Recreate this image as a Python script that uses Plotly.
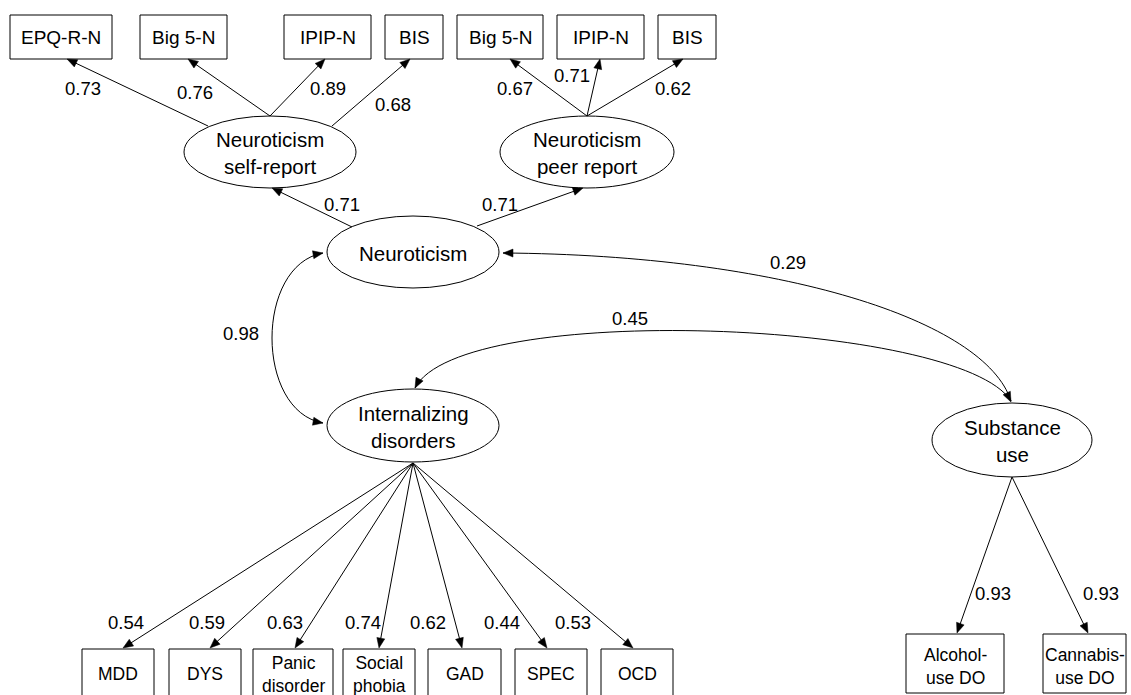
import numpy as np
import plotly.graph_objects as go

# ---------------- data ----------------
self_report_indicators = ["EPQ-R-N", "Big 5-N", "IPIP-N", "BIS"]
self_report_loadings = [0.73, 0.76, 0.89, 0.68]
peer_report_indicators = ["Big 5-N", "IPIP-N", "BIS"]
peer_report_loadings = [0.67, 0.71, 0.62]
factor_names = ["Neuroticism<br>self-report", "Neuroticism<br>peer report",
                "Neuroticism", "Internalizing<br>disorders", "Substance<br>use"]
neuroticism_loadings = [0.71, 0.71]  # self-report, peer report
internalizing_indicators = ["MDD", "DYS", "Panic<br>disorder", "Social<br>phobia",
                            "GAD", "SPEC", "OCD"]
internalizing_loadings = [0.54, 0.59, 0.63, 0.74, 0.62, 0.44, 0.53]
substance_indicators = ["Alcohol-<br>use DO", "Cannabis-<br>use DO"]
substance_loadings = [0.93, 0.93]
corr_neuro_internalizing = 0.98
corr_neuro_substance = 0.29
corr_internalizing_substance = 0.45

# ---------------- layout (positions / sizes) ----------------
W, H = 1131, 695
FONT = "Liberation Sans, Arial, sans-serif"

top_y = (15, 59)
self_box_x = [(10, 112), (140, 227), (284, 371), (385, 443)]
peer_box_x = [(457, 543), (557, 644), (658, 716)]
ell = {  # cx, cy, rx, ry
    "self": (270, 152, 86, 36),
    "peer": (587, 152, 87, 36),
    "neuro": (413, 252, 86, 36),
    "int": (413, 425.5, 86, 36.5),
    "sub": (1012, 440, 80, 37),
}
self_tails = [(208, 126), (270, 116), (270, 116), (332, 126)]
self_tips = [(67, 59), (188, 59), (325, 59), (410, 59)]
self_lab = [(83, 88), (195, 92), (328, 88), (393, 104)]
peer_tail = (587, 116)
peer_tips = [(510, 59), (600, 59), (683, 59)]
peer_lab = [(515, 88), (572, 75), (673, 88)]
neuro_tails = [(352, 227), (477, 226)]
neuro_tips = [(272, 188), (583, 188)]
neuro_lab = [(342, 204), (500, 204)]

bot_y = (649, 712)
bot_box_x = [(82, 154), (169, 241), (253, 333), (343, 415), (428, 501), (515, 587), (601, 673)]
int_apex = (413, 463)
bot_tip_x = [123, 210, 295, 379, 462, 547, 633]
bot_lab_x = [126, 207, 285, 363, 428, 502, 573]
bot_lab_y = 622

sub_box = [(906, 1004), (1043, 1126)]
sub_y = (634, 693)
sub_apex = (1012, 477)
sub_tips = [(957, 633), (1088, 633)]
sub_lab = [(993, 593), (1101, 593)]

shapes, annotations = [], []
LINE = dict(color="black", width=1)


def rect(x0, x1, y0, y1):
    shapes.append(dict(type="rect", xref="x", yref="y", x0=x0, x1=x1, y0=y0, y1=y1,
                       line=LINE, fillcolor="white", layer="below"))


def ellipse(cx, cy, rx, ry):
    shapes.append(dict(type="circle", xref="x", yref="y", x0=cx - rx, x1=cx + rx,
                       y0=cy - ry, y1=cy + ry, line=LINE, fillcolor="white", layer="below"))


def head(tip, direction, L=10, Wd=8):
    d = np.asarray(direction, float)
    u = d / np.linalg.norm(d)
    n = np.array([-u[1], u[0]])
    t = np.asarray(tip, float)
    b = t - L * u
    p1 = b + n * Wd / 2
    p2 = b - n * Wd / 2
    path = f"M {t[0]:.2f},{t[1]:.2f} L {p1[0]:.2f},{p1[1]:.2f} L {p2[0]:.2f},{p2[1]:.2f} Z"
    shapes.append(dict(type="path", xref="x", yref="y", path=path,
                       fillcolor="black", line=dict(color="black", width=0.5)))


def arrow(tail, tip):
    t = np.asarray(tail, float)
    p = np.asarray(tip, float)
    u = (p - t) / np.linalg.norm(p - t)
    end = p - 5 * u
    shapes.append(dict(type="line", xref="x", yref="y", x0=t[0], y0=t[1],
                       x1=end[0], y1=end[1], line=LINE))
    head(p, p - t)


def curve(p0, c1, c2, p3, head0=True, head3=True):
    path = f"M {p0[0]},{p0[1]} C {c1[0]},{c1[1]} {c2[0]},{c2[1]} {p3[0]},{p3[1]}"
    shapes.append(dict(type="path", xref="x", yref="y", path=path, line=LINE))
    if head0:
        head(p0, np.subtract(p0, c1))
    if head3:
        head(p3, np.subtract(p3, c2))


def text(x, y, s, size=18.5, family=FONT):
    annotations.append(dict(x=x, y=y, xref="x", yref="y", text=s, showarrow=False,
                            xanchor="center", yanchor="middle",
                            font=dict(family=family, size=size, color="black")))


# top indicators
for (x0, x1), name in zip(self_box_x, self_report_indicators):
    rect(x0, x1, *top_y)
    text((x0 + x1) / 2, 37, name, 19)
for (x0, x1), name in zip(peer_box_x, peer_report_indicators):
    rect(x0, x1, *top_y)
    text((x0 + x1) / 2, 37, name, 19)

# factors
keys = ["self", "peer", "neuro", "int", "sub"]
for k, name in zip(keys, factor_names):
    cx, cy, rx, ry = ell[k]
    ellipse(cx, cy, rx, ry)
    text(cx, cy + 1, name, 20.5)

# loadings on self / peer report
for tail, tip, lab, v in zip(self_tails, self_tips, self_lab, self_report_loadings):
    arrow(tail, tip)
    text(lab[0], lab[1], f"{v:.2f}")
for tip, lab, v in zip(peer_tips, peer_lab, peer_report_loadings):
    arrow(peer_tail, tip)
    text(lab[0], lab[1], f"{v:.2f}")
for tail, tip, lab, v in zip(neuro_tails, neuro_tips, neuro_lab, neuroticism_loadings):
    arrow(tail, tip)
    text(lab[0], lab[1], f"{v:.2f}")

# internalizing indicators
for (x0, x1), tx, lx, name, v in zip(bot_box_x, bot_tip_x, bot_lab_x,
                                      internalizing_indicators, internalizing_loadings):
    rect(x0, x1, *bot_y)
    text((x0 + x1) / 2, 674, name, 17.5)
    arrow(int_apex, (tx, bot_y[0] - 1))
    text(lx, bot_lab_y, f"{v:.2f}")

# substance indicators
for (x0, x1), tip, lab, name, v in zip(sub_box, sub_tips, sub_lab,
                                        substance_indicators, substance_loadings):
    rect(x0, x1, *sub_y)
    text((x0 + x1) / 2, 666, name, 17.5)
    arrow(sub_apex, tip)
    text(lab[0], lab[1], f"{v:.2f}")

# correlations (curved double-headed arrows)
curve((323, 253), (255, 265), (255, 411), (323, 423))
text(241, 333, f"{corr_neuro_internalizing:.2f}")
curve((1011, 401), (985, 320), (780, 255), (503, 253), head0=False)
text(788, 262, f"{corr_neuro_substance:.2f}")
curve((1011, 401), (960, 320), (460, 300), (415, 388), head0=False)
text(630, 318, f"{corr_internalizing_substance:.2f}")
head((1011, 402), (38, 80))

fig = go.Figure(go.Scatter(x=[], y=[], mode="markers", showlegend=False))
fig.update_layout(
    width=W, height=H, margin=dict(l=0, r=0, t=0, b=0),
    paper_bgcolor="white", plot_bgcolor="white",
    xaxis=dict(range=[0, W], visible=False, fixedrange=True),
    yaxis=dict(range=[H, 0], visible=False, fixedrange=True),
    shapes=shapes, annotations=annotations, showlegend=False,
)
fig.write_html(
    "out.html",
    config={"displayModeBar": False},
    post_script="document.body.style.margin='0';document.body.style.overflow='hidden';",
)
